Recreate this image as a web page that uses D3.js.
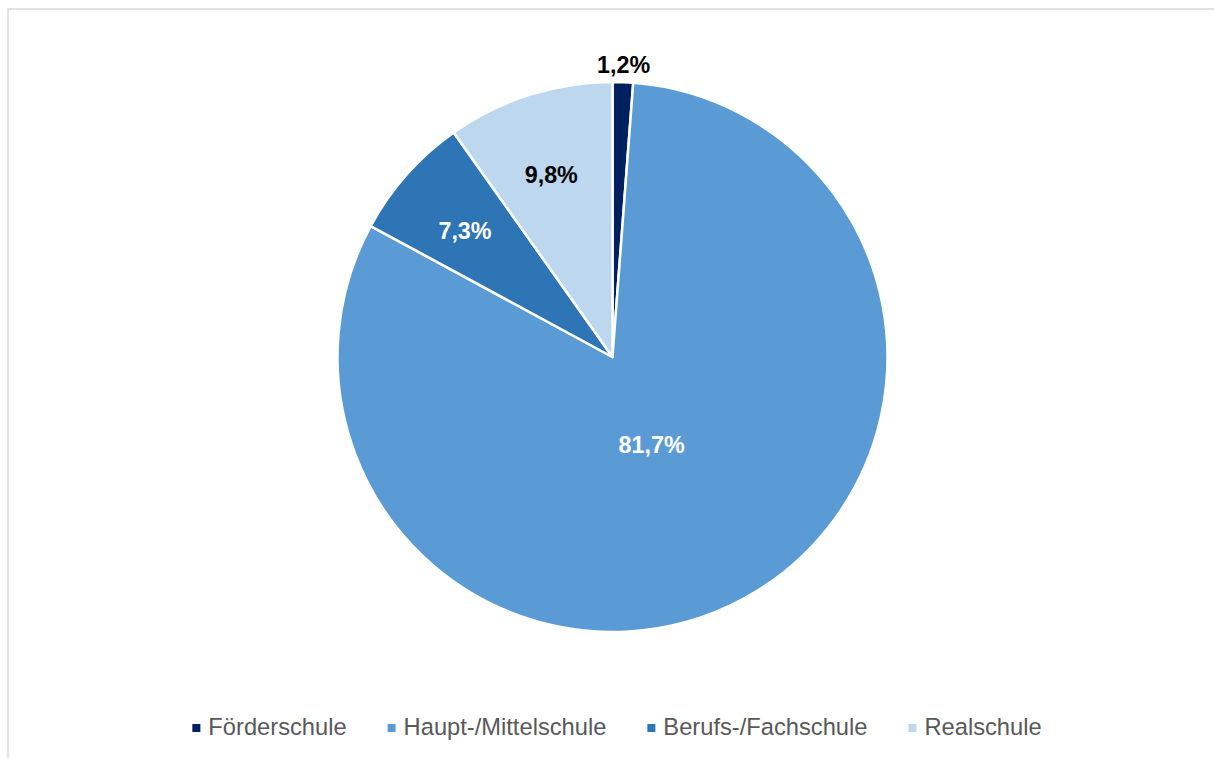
<!DOCTYPE html>
<html>
<head>
<meta charset="utf-8">
<script src="https://cdn.jsdelivr.net/npm/d3@7"></script>
<style>
  html, body { margin: 0; padding: 0; background: #fff; overflow: hidden; }
  svg { display: block; font-family: "Liberation Sans", Arial, sans-serif; }
</style>
</head>
<body>
<div id="chart"></div>
<script>
// chart data
const categories = ["Förderschule", "Haupt-/Mittelschule", "Berufs-/Fachschule", "Realschule"];
const shares = [1.2, 81.7, 7.3, 9.8];
const labels = ["1,2%", "81,7%", "7,3%", "9,8%"];
const colors = ["#002060", "#5b9bd5", "#2e75b6", "#bdd7ee"];
const labelColors = ["#000000", "#ffffff", "#ffffff", "#000000"];

const width = 1214;
const height = 758;
const cx = 612.5;
const cy = 357;
const radius = 275;

const svg = d3.select("#chart")
    .append("svg")
    .attr("width", width)
    .attr("height", height);

// light frame (only top/left visible in the crop)
svg.append("rect")
    .attr("x", 8)
    .attr("y", 9)
    .attr("width", 1400)
    .attr("height", 1000)
    .attr("fill", "none")
    .attr("stroke", "#d9d9d9")
    .attr("stroke-width", 1.5);

const pie = d3.pie().sort(null).value(d => d);
const arcs = pie(shares);
const arc = d3.arc().innerRadius(0).outerRadius(radius);

const g = svg.append("g").attr("transform", `translate(${cx},${cy})`);

g.selectAll("path")
    .data(arcs)
    .join("path")
    .attr("d", arc)
    .attr("fill", (_, i) => colors[i])
    .attr("stroke", "#ffffff")
    .attr("stroke-width", 2.5)
    .attr("stroke-linejoin", "round");

// label placement like Excel "best fit"
function labelPos(d) {
    const mid = (d.startAngle + d.endAngle) / 2;
    if (d.value < 3) {
        const r = radius + 18;
        return [Math.sin(mid) * r, -Math.cos(mid) * r];
    }
    if (d.value > 50) {
        const r = radius * 0.35, a = Math.PI * 156 / 180;
        return [Math.sin(a) * r, -Math.cos(a) * r];
    }
    const r = radius * 0.705;
    return [Math.sin(mid) * r - 2.5, -Math.cos(mid) * r + 2];
}

g.selectAll("text.lbl")
    .data(arcs)
    .join("text")
    .attr("class", "lbl")
    .attr("x", d => labelPos(d)[0])
    .attr("y", d => labelPos(d)[1])
    .attr("dy", "0.36em")
    .attr("text-anchor", "middle")
    .attr("font-size", 23.3)
    .attr("font-weight", "bold")
    .attr("fill", (_, i) => labelColors[i])
    .text((_, i) => labels[i]);

// legend
const legend = svg.append("g");
const items = legend.selectAll("g")
    .data(categories)
    .join("g");

items.append("rect")
    .attr("width", 8)
    .attr("height", 8)
    .attr("y", 724)
    .attr("fill", (_, i) => colors[i]);

items.append("text")
    .attr("x", 16)
    .attr("y", 735)
    .attr("font-size", 23.7)
    .attr("fill", "#595959")
    .text(d => d);

let xPos = 0;
const offsets = [];
items.each(function () {
    offsets.push(xPos);
    const w = d3.select(this).select("text").node().getComputedTextLength();
    xPos += 16 + w + 41;
});
const totalW = xPos - 41;
const startX = 617 - totalW / 2;
items.attr("transform", (_, i) => `translate(${startX + offsets[i]},0)`);
</script>
</body>
</html>
